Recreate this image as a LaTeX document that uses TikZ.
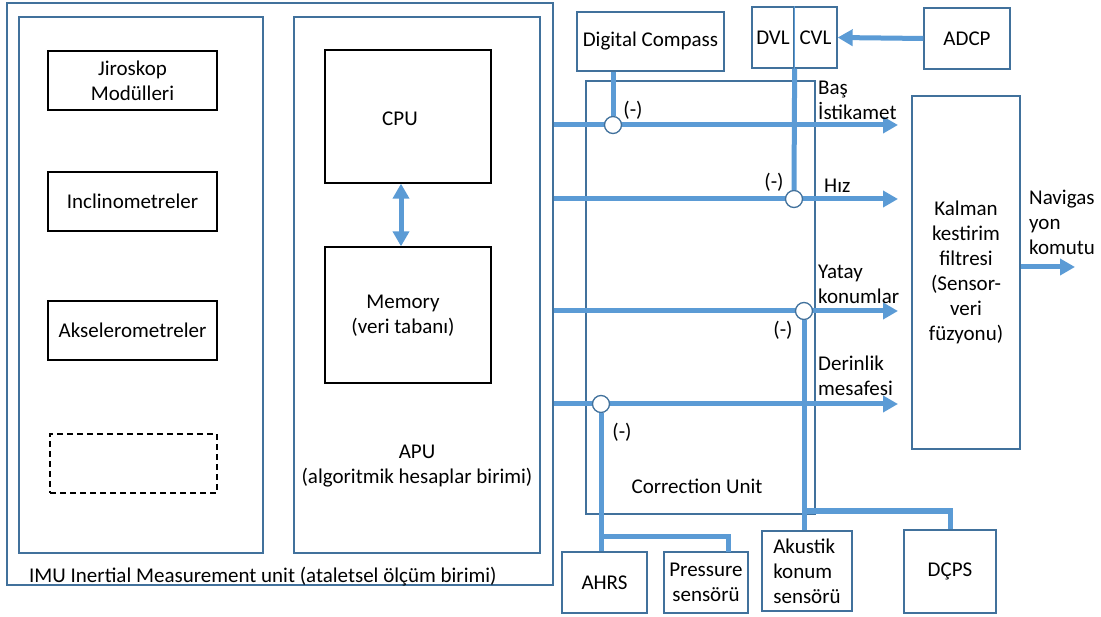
\documentclass[tikz,border=0pt]{standalone}
\usepackage{fontspec}
\setmainfont{Carlito}
\usetikzlibrary{arrows.meta}
\definecolor{bord}{HTML}{41719C}
\definecolor{bline}{HTML}{5B9BD5}
\begin{document}
\begin{tikzpicture}[x=1pt,y=-1pt,
  every node/.style={font=\fontsize{21}{25}\selectfont, inner sep=1pt},
  bbox/.style={draw=bord, line width=1.3pt, fill=none},
  kbox/.style={draw=black, line width=1.3pt},
  bl/.style={draw=bline, line width=5pt},
  arr/.style={draw=bline, line width=5pt, -{Triangle[length=15pt,width=16pt]}},
  darr/.style={draw=bline, line width=5pt, {Triangle[length=15pt,width=16pt]}-{Triangle[length=15pt,width=16pt]}},
  junc/.style={circle, draw=bord, line width=1.3pt, fill=white, minimum size=17pt, inner sep=0pt},
  lbl/.style={align=left, anchor=west}]
\useasboundingbox (0,0) rectangle (1101,617);
% IMU
\node[bbox, minimum width=546pt, minimum height=582pt] (imu) at (280,294) {};
\node[bbox, minimum width=244pt, minimum height=536pt] (sens) at (141,285) {};
\node[bbox, minimum width=246pt, minimum height=536pt] (apu) at (417,285) {};
\node[kbox, minimum width=169pt, minimum height=59pt, align=center] (jiro) at (132.5,80.5) {Jiroskop\\Modülleri};
\node[kbox, minimum width=169pt, minimum height=59pt] (incl) at (132.5,201.5) {Inclinometreler};
\node[kbox, minimum width=169pt, minimum height=59pt] (aksel) at (132.5,330.5) {Akselerometreler};
\node[draw=black, line width=1.3pt, dashed, dash pattern=on 6pt off 4pt, minimum width=167pt, minimum height=59pt] (empty) at (133.5,463.5) {};
\node[kbox, minimum width=166pt, minimum height=133pt] (cpu) at (408,116.5) {};
\node (cputxt) at (400,119) {CPU};
\node[kbox, minimum width=166pt, minimum height=136pt] (mem) at (408,315) {};
\node[align=center] (memtxt) at (403,316) {Memory\\(veri tabanı)};
\node[align=center] (aputxt) at (417,466) {APU\\(algoritmik hesaplar birimi)};
\node[anchor=west] (imutxt) at (28,577) {IMU Inertial Measurement unit (ataletsel ölçüm birimi)};
\draw[darr] ([xshift=-7pt]cpu.south) -- ([xshift=-7pt]mem.north);
% correction unit
\node[bbox, minimum width=229pt, minimum height=433pt] (corr) at (700.5,297.5) {};
\node (corrtxt) at (697,486) {Correction Unit};
% top sensors
\node[bbox, minimum width=147pt, minimum height=59pt] (compass) at (650.5,41.5) {Digital Compass};
\node[bbox, minimum width=42pt, minimum height=61pt] (dvl) at (773,37.5) {DVL};
\node[bbox, minimum width=43pt, minimum height=61pt] (cvl) at (815.5,37.5) {CVL};
\draw[draw=bline, line width=1.3pt] (dvl.north east) -- (dvl.south east);
\node[bbox, minimum width=86pt, minimum height=61pt] (adcp) at (967,38.5) {ADCP};
\draw[arr] (adcp.west) -- (cvl.east);
% Kalman
\node[bbox, minimum width=108pt, minimum height=353pt, align=center] (kalman) at (966,272.5) {Kalman\\kestirim\\filtresi\\(Sensor-\\veri\\füzyonu)};
\coordinate (out) at (1075,267);
\draw[arr] (kalman.east |- out) -- (out);
\node[lbl] (navtxt) at (1028,222) {Navigas\\yon\\komutu};
% bottom sensors
\node[bbox, minimum width=85pt, minimum height=61pt] (ahrs) at (604.5,582.5) {AHRS};
\node[bbox, minimum width=84pt, minimum height=61pt, align=center] (press) at (706,582.5) {Pressure\\sensörü};
\node[bbox, minimum width=90pt, minimum height=80pt, align=left] (akustik) at (807,571) {Akustik\\konum\\sensörü};
\node[bbox, minimum width=92pt, minimum height=83pt] (dcps) at (950,571.5) {DÇPS};
% signal arrows
\coordinate (t1) at (898,125);
\coordinate (t2) at (898,199);
\coordinate (t3) at (898,311);
\coordinate (t4) at (898,404);
\draw[arr] (imu.east |- t1) -- (t1);
\draw[arr] (imu.east |- t2) -- (t2);
\draw[arr] (imu.east |- t3) -- (t3);
\draw[arr] (imu.east |- t4) -- (t4);
% junctions
\node[junc] (j1) at (613,125) {};
\node[junc] (j2) at (794,199) {};
\node[junc] (j3) at (804,311) {};
\node[junc] (j4) at (601,404) {};
\draw[bl] (compass.south -| j1) -- (j1.north);
\draw[bl] (dvl.south east) -- (j2.north);
\draw[bl] (j3.south) -- (akustik.north -| j3);
\coordinate (b1) at (804,511);
\draw[bl] (b1) -| (dcps.north);
\draw[bl] (j4.south) -- (ahrs.north -| j4);
\coordinate (b2) at (601,536);
\coordinate (b3) at (728,552);
\draw[bl] (b2) -| (b3);
% labels
\node (m1) at (633,110) {(-)};
\node (m2) at (774,182) {(-)};
\node (m3) at (783,330) {(-)};
\node (m4) at (622,432) {(-)};
\node[lbl] (l1) at (817,100) {Baş\\İstikamet};
\node[lbl] (l2) at (823,186) {Hız};
\node[lbl] (l3) at (817,284) {Yatay\\konumlar};
\node[lbl] (l4) at (817,376) {Derinlik\\mesafesi};
\end{tikzpicture}
\end{document}
